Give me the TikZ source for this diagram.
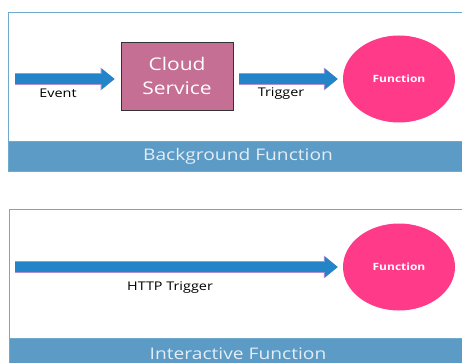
\documentclass[tikz,border=0pt]{standalone}
\usepackage{fontspec}
\setmainfont[FakeStretch=1.2]{Open Sans}
\usepackage{xcolor}
\usetikzlibrary{arrows.meta,positioning,shapes.geometric,calc}

\definecolor{bandblue}{HTML}{5B9BC6}
\definecolor{frameblue}{HTML}{6FA9CC}
\definecolor{flowblue}{HTML}{2484C8}
\definecolor{flowedge}{HTML}{B08FD0}
\definecolor{service}{HTML}{C56F94}
\definecolor{fnpink}{HTML}{FF3A88}
\definecolor{bandtext}{HTML}{E4EDF5}

\begin{document}
\begin{tikzpicture}[
  x=1pt, y=-1pt,
  panel/.style={draw=frameblue, line width=0.8pt, fill=white},
  band/.style={draw=frameblue, line width=0.8pt, fill=bandblue},
  bandlabel/.style={font=\fontsize{16}{18}\selectfont, text=bandtext},
  service/.style={rectangle, draw=black!80, line width=0.8pt, fill=service,
    minimum width=112pt, minimum height=68pt, text=white, align=center,
    font=\fontsize{17.5}{24}\selectfont},
  fn/.style={ellipse, fill=fnpink, minimum width=112pt, minimum height=87pt,
    inner sep=0pt, text=white, font=\fontsize{10}{12}\selectfont\bfseries},
  flow/.style={draw=flowblue, line width=10pt,
    -{Triangle[length=13pt, width=20pt]},
    preaction={draw=flowedge, line width=11.2pt,
      -{Triangle[length=14pt, width=22pt]}}},
  tag/.style={font=\fontsize{12}{14}\selectfont}
]
  \useasboundingbox (0,0) rectangle (462,363);

  % Background function panel
  \draw[panel] (8,12) rectangle (475,171);
  \draw[band] (8,141) rectangle (475,171);
  \node[bandlabel] (bgtitle) at (238,156) {Background Function};

  \coordinate (ev) at (15,79);
  \node[service] (cs) at (177,76) {Cloud\\Service};
  \node[fn] (fn1) at (399,79) {Function};

  \draw[flow, shorten >=6pt] (ev) -- (ev -| cs.west);
  \draw[flow, shorten <=6pt, shorten >=5pt] (cs.east |- fn1) -- (fn1.west);
  \node[tag] (evlabel) at (58,93) {Event};
  \node[tag] (trlabel) at (281,94) {Trigger};

  % Interactive function panel
  \draw[panel] (9,209) rectangle (475,375);
  \draw[band] (9,338) rectangle (475,375);
  \node[bandlabel] (intitle) at (238,354) {Interactive Function};

  \coordinate (http) at (15,267);
  \node[fn] (fn2) at (399,267) {Function};
  \draw[flow, shorten >=5pt] (http) -- (fn2.west);
  \node[tag] (httplabel) at (170,288) {HTTP Trigger};
\end{tikzpicture}
\end{document}
